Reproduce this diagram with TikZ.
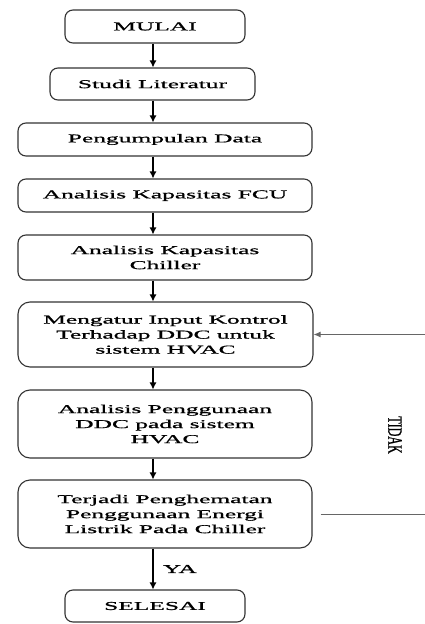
\documentclass[tikz,border=0pt]{standalone}
\usepackage{fontspec}
\setmainfont{Liberation Serif}[FakeStretch=2.12,FakeBold=1.0]
\newfontfamily\plainfont{Liberation Serif}[FakeBold=1.0]
\usetikzlibrary{arrows.meta}

\begin{document}
\begin{tikzpicture}[x=1pt,y=-1pt,
  kotak/.style={draw=black!80,line width=1.1pt,rectangle,rounded corners=8pt,
    align=center,inner sep=0pt,font=\fontsize{12}{15}\selectfont},
  panah/.style={line width=1.1pt,-{Latex[length=7pt,width=7pt]}},
  balik/.style={draw=black!60,line width=1pt}]
\useasboundingbox (0,0) rectangle (424,624);

\node [kotak,minimum width=180pt,minimum height=33pt] (mulai) at(155,26.5){MULAI};
\node [kotak,minimum width=205pt,minimum height=32pt] (studi) at(152.5,84){Studi Literatur};
\node [kotak,minimum width=294pt,minimum height=33pt] (data) at(165,139.5){Pengumpulan Data};
\node [kotak,minimum width=294pt,minimum height=33pt] (fcu) at(165,195.5){Analisis Kapasitas FCU};
\node [kotak,minimum width=294pt,minimum height=45pt] (chiller) at(165,257.5){Analisis Kapasitas\\Chiller};
\node [kotak,minimum width=295pt,minimum height=65pt,rounded corners=12pt] (atur) at(165.5,334.5){Mengatur Input Kontrol\\Terhadap DDC untuk\\sistem HVAC};
\node [kotak,minimum width=294pt,minimum height=68pt,rounded corners=12pt] (ddc) at(165,424){Analisis Penggunaan\\DDC pada sistem\\HVAC};
\node [kotak,minimum width=294pt,minimum height=68pt,rounded corners=12pt] (hemat) at(165,514){Terjadi Penghematan\\Penggunaan Energi\\Listrik Pada Chiller};
\node [kotak,minimum width=180pt,minimum height=32pt] (selesai) at(155,606){SELESAI};

\draw[panah](mulai.south -| 153,0) -- (studi.north -| 153,0);
\draw[panah](studi.south -| 153,0) -- (data.north -| 153,0);
\draw[panah](data.south -| 153,0) -- (fcu.north -| 153,0);
\draw[panah](fcu.south -| 153,0) -- (chiller.north -| 153,0);
\draw[panah](chiller.south -| 153,0) -- (atur.north -| 153,0);
\draw[panah](atur.south -| 153,0) -- (ddc.north -| 153,0);
\draw[panah](ddc.south -| 153,0) -- (hemat.north -| 153,0);
\draw[panah](hemat.south -| 153,0) -- node[right=6pt,font=\fontsize{12}{15}\selectfont] (ya) {YA} (selesai.north -| 153,0);

%umpan balik
\coordinate (kanan) at (432,424);
\draw[balik](hemat.east) ++(8pt,0pt) -- (kanan |- hemat.east) -- (kanan |- atur.east);
\draw[balik,-{Latex[length=7pt,width=6pt]}](kanan |- atur.east) -- (atur.east);
\node [rotate=-90,font=\plainfont\fontsize{12}{15}\selectfont] (tidak) at(395,435){\scalebox{1}[1.7]{TIDAK}};

\end{tikzpicture}
\end{document}
